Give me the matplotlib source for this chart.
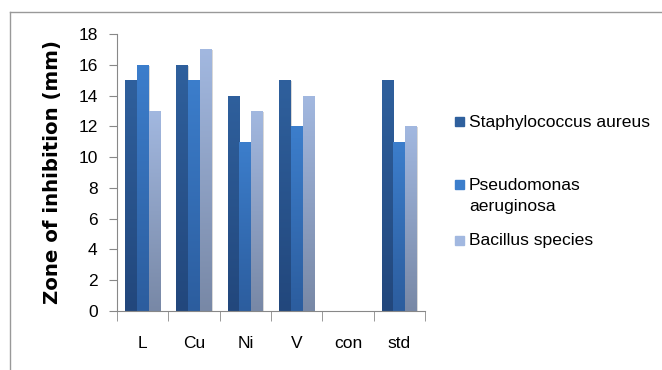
import matplotlib.pyplot as plt
import numpy as np
from matplotlib.colors import LinearSegmentedColormap
from matplotlib.lines import Line2D
from matplotlib.patches import Rectangle

categories = ['L', 'Cu', 'Ni', 'V', 'con', 'std']
series = ['Staphylococcus aureus', 'Pseudomonas\naeruginosa', 'Bacillus species']
staph = [15, 16, 14, 15, 0, 15]
pseudo = [16, 15, 11, 12, 0, 11]
bacillus = [13, 17, 13, 14, 0, 12]
values = [staph, pseudo, bacillus]

# (top colour, bottom colour) for each series
grads = [('#2f609d', '#22477c'),
         ('#3c7ecc', '#2c5d9e'),
         ('#a2b8e0', '#7888a6')]

plt.rcParams['font.family'] = ['Liberation Sans Narrow', 'Liberation Sans', 'DejaVu Sans']

fig = plt.figure(figsize=(6.62, 3.70), dpi=100)
ax = fig.add_axes([117/662, 1 - 311/370, 308/662, 277/370])

w = 0.23
x = np.arange(len(categories))
grad = np.linspace(0, 1, 256).reshape(-1, 1)
for i, vals in enumerate(values):
    cmap = LinearSegmentedColormap.from_list('g%d' % i, [grads[i][1], grads[i][0]])
    for xi, v in zip(x, vals):
        if v <= 0:
            continue
        left = xi + (i - 1) * w - w / 2
        # soft shadow on the right
        ax.add_patch(Rectangle((left + 0.02, 0), w, v - 0.05, color='#d8d8d8', zorder=1, lw=0))
        r = Rectangle((left, 0), w, v, fill=False, lw=0)
        ax.add_patch(r)
        im = ax.imshow(grad, cmap=cmap, origin='lower', aspect='auto',
                       extent=(left, left + w, 0, v), zorder=2)
        im.set_clip_path(r)

ax.set_xlim(-0.5, len(categories) - 0.5)
ax.set_ylim(0, 18)
ax.set_yticks(range(0, 19, 2))
ax.set_xticks(x)
ax.set_xticklabels(categories)
ax.set_xticks(np.arange(-0.5, len(categories), 1), minor=True)
ax.tick_params(axis='x', which='major', length=0, pad=18, labelsize=12.5)
ax.tick_params(axis='x', which='minor', length=7, color='#888888', direction='out')
ax.tick_params(axis='y', length=6, color='#888888', labelsize=12.5, pad=8)
for s in ['top', 'right']:
    ax.spines[s].set_visible(False)
for s in ['left', 'bottom']:
    ax.spines[s].set_color('#888888')
ax.set_ylabel('Zone of inhibition (mm)', fontsize=14.2, fontweight='bold',
              family='DejaVu Sans', labelpad=12)

# legend
leg_y = [122, 196, 241]
for i, (lab, yy) in enumerate(zip(series, leg_y)):
    yf = 1 - yy / 370
    if '\n' in lab:
        yf = 1 - 185 / 370
    fig.patches.append(Rectangle((455/662, yf - 4/370), 9/662, 9/370,
                                 transform=fig.transFigure, color=grads[i][0]))
    fig.text(469/662, 1 - yy / 370, lab, fontsize=12.6, va='center', ha='left',
             linespacing=1.5)

# outer frame
fig.add_artist(Line2D([10/662, 10/662], [0, 1 - 12/370], color='#999999', lw=1))
fig.add_artist(Line2D([10/662, 1], [1 - 12/370, 1 - 12/370], color='#999999', lw=1))

fig.savefig('out.png', dpi=100)
